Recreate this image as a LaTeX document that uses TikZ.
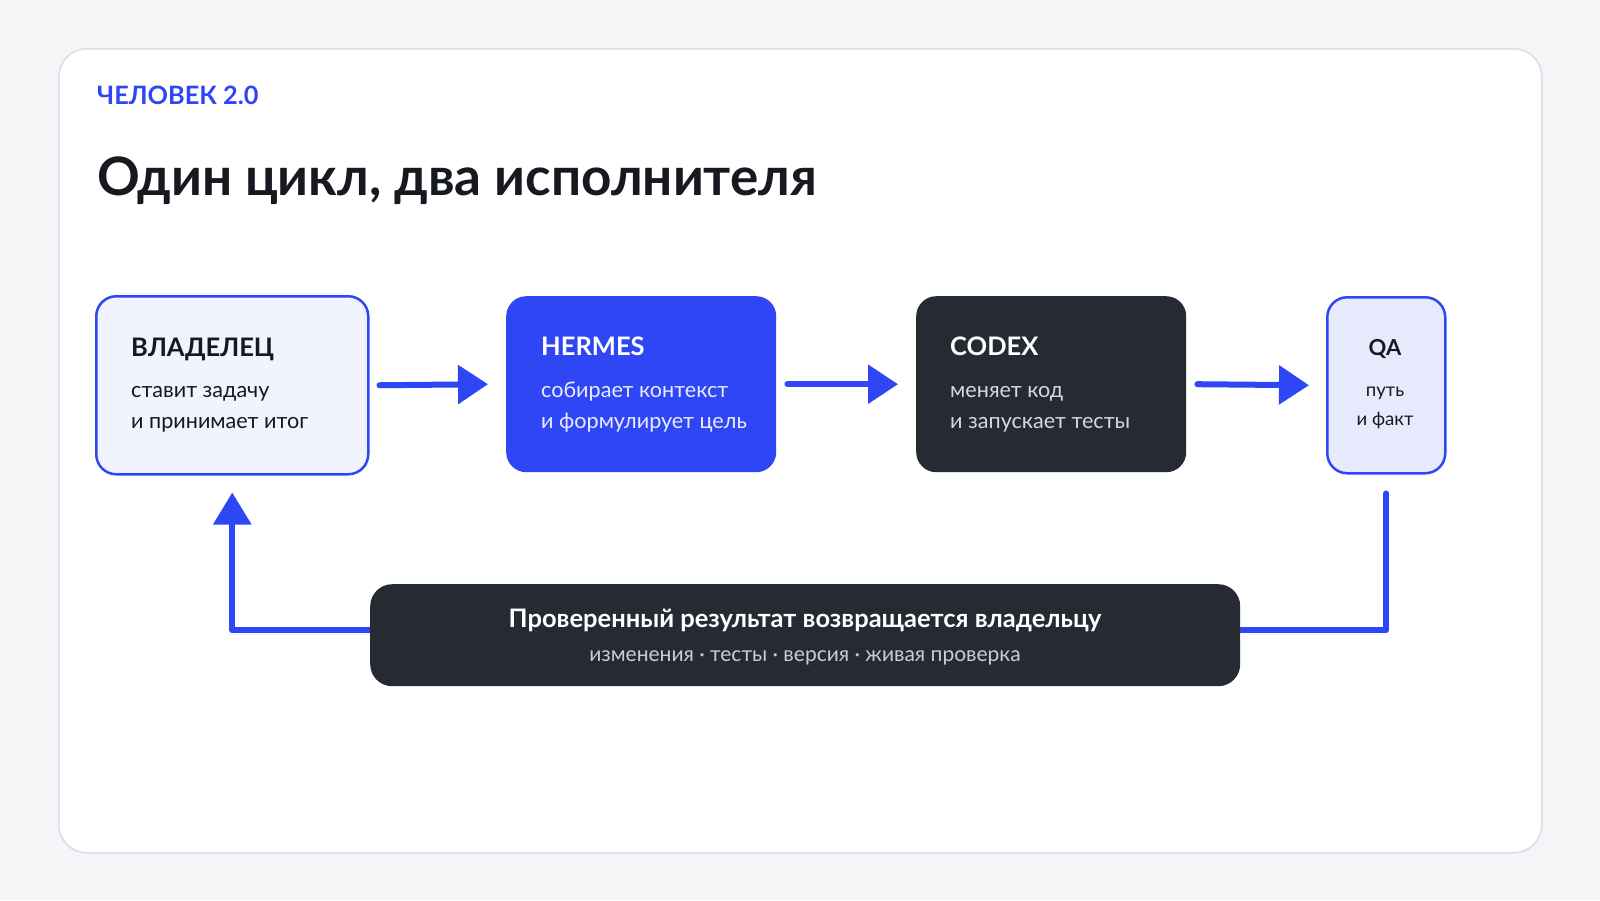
\documentclass[tikz,border=0pt]{standalone}
\usepackage{fontspec}
\setmainfont{Lato}
\usetikzlibrary{arrows.meta,backgrounds}
\definecolor{bgc}{HTML}{F4F5F7}
\definecolor{cardline}{HTML}{D9DEEA}
\definecolor{accent}{HTML}{2F46F5}
\definecolor{darkbox}{HTML}{262A33}
\definecolor{ink}{HTML}{16191F}
\definecolor{paleblue}{HTML}{F1F4FF}
\definecolor{qablue}{HTML}{E7EAFD}
\definecolor{softwhite}{HTML}{E8EBFF}
\definecolor{softgray}{HTML}{D5D8DF}
\definecolor{bargray}{HTML}{C9CDD6}
\tikzset{
  boxbase/.style={rectangle, rounded corners=20pt, inner sep=0pt, anchor=north west},
  ownerbox/.style={boxbase, draw=accent, line width=2.5pt, fill=paleblue},
  hermesbox/.style={boxbase, fill=accent},
  codexbox/.style={boxbase, fill=darkbox},
  qabox/.style={boxbase, draw=accent, line width=2.5pt, fill=qablue},
  barbox/.style={boxbase, rounded corners=22pt, fill=darkbox},
  txt/.style={inner sep=0pt, anchor=base west},
  ctxt/.style={inner sep=0pt, anchor=base},
  headfont/.style={font=\fontsize{25.5}{30}\selectfont\bfseries},
  subfont/.style={font=\fontsize{21.6}{26}\selectfont},
  flow/.style={draw=accent, line width=6pt, line cap=round, -{Triangle[length=30pt,width=38pt]}},
  loopline/.style={draw=accent, line width=6pt, line join=round, line cap=round},
}
\begin{document}
\begin{tikzpicture}[x=1pt,y=-1pt]
\useasboundingbox (0,0) rectangle (1600,900);
\begin{scope}[on background layer]
\fill[bgc] (0,0) rectangle (1600,900);
\node[rectangle, rounded corners=28pt, draw=cardline, line width=1.6pt, fill=white, minimum width=1483pt, minimum height=804pt, anchor=north west, inner sep=0pt] (card) at (58,48) {};
\end{scope}

\node[txt, text=accent, font=\fontsize{25.3}{30}\selectfont\bfseries] (kicker) at (97,104) {ЧЕЛОВЕК 2.0};
\node[txt, text=ink, font=\fontsize{53}{64}\selectfont\bfseries] (title) at (97,195) {Один цикл, два исполнителя};

% boxes
\node[ownerbox, minimum width=272pt, minimum height=178pt] (owner) at (95,295) {};
\node[hermesbox, minimum width=270pt, minimum height=176pt] (hermes) at (506,296) {};
\node[codexbox, minimum width=270pt, minimum height=176pt] (codex) at (916,296) {};
\node[qabox, minimum width=118pt, minimum height=176pt] (qa) at (1326,296) {};

\node[txt, headfont, text=ink] (ownerh) at (131,356) {ВЛАДЕЛЕЦ};
\node[txt, subfont, text=ink] (owner1) at (131,397) {ставит задачу};
\node[txt, subfont, text=ink] (owner2) at (131,428) {и принимает итог};

\node[txt, headfont, text=white] (hermesh) at (541,355) {HERMES};
\node[txt, subfont, text=softwhite] (hermes1) at (541,397) {собирает контекст};
\node[txt, subfont, text=softwhite] (hermes2) at (541,428) {и формулирует цель};

\node[txt, headfont, text=white] (codexh) at (950,355) {CODEX};
\node[txt, subfont, text=softgray] (codex1) at (950,397) {меняет код};
\node[txt, subfont, text=softgray] (codex2) at (950,428) {и запускает тесты};

\node[ctxt, text=ink, font=\fontsize{22}{26}\selectfont\bfseries] (qah) at (1385,355) {QA};
\node[ctxt, text=ink, font=\fontsize{18.6}{22}\selectfont] (qa1) at (1385,396) {путь};
\node[ctxt, text=ink, font=\fontsize{18.6}{22}\selectfont] (qa2) at (1385,425) {и факт};

% flow arrows
\draw[flow] ([xshift=10pt]owner.east) -- ([xshift=-18pt]hermes.west);
\draw[flow] ([xshift=11pt]hermes.east) -- ([xshift=-18pt]codex.west);
\draw[flow] ([xshift=11pt]codex.east) -- ([xshift=-17pt]qa.west);

% bottom bar
\node[barbox, minimum width=870pt, minimum height=102pt] (bar) at (370,584) {};
\node[ctxt, text=white, font=\fontsize{25.5}{30}\selectfont\bfseries] (barh) at (805,627) {Проверенный результат возвращается владельцу};
\node[ctxt, text=bargray, font=\fontsize{21}{25}\selectfont] (bars) at (805,661) {изменения · тесты · версия · живая проверка};

% loop back
\coordinate (qlow) at ([yshift=-19pt]qa.south);
\coordinate (olow) at ([yshift=-17pt]owner.south);
\begin{scope}[on background layer]
\draw[loopline] (qlow) |- ([yshift=5pt]bar.east);
\draw[loopline, -{Triangle[length=32pt,width=37pt]}] ([yshift=5pt]bar.west) -| (olow);
\end{scope}
\end{tikzpicture}
\end{document}
